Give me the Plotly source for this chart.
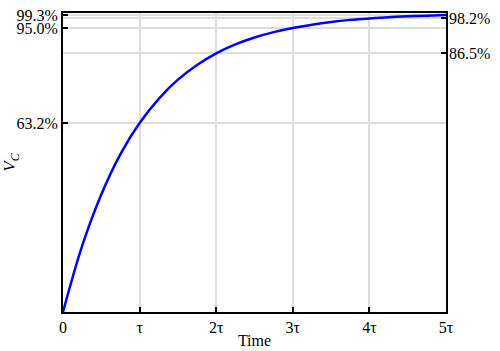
import plotly.graph_objects as go

# time in units of tau, voltage as fraction of supply
t_tau = [0, 0.25, 0.5, 0.75, 1, 1.25, 1.5, 1.75, 2, 2.25, 2.5, 2.75, 3,
         3.25, 3.5, 3.75, 4, 4.25, 4.5, 4.75, 5]
v_c = [0.0, 0.221, 0.393, 0.528, 0.632, 0.713, 0.777, 0.826, 0.865, 0.895,
       0.918, 0.936, 0.950, 0.961, 0.970, 0.977, 0.982, 0.986, 0.989, 0.991, 0.993]

x_tick_vals = [0, 1, 2, 3, 4, 5]
x_tick_text = ["0", "τ", "2τ", "3τ", "4τ", "5τ"]
left_tick_vals = [0.632, 0.950, 0.993]
left_tick_text = ["63.2%", "95.0%", "99.3%"]
right_tick_vals = [0.865, 0.982]
right_tick_text = ["86.5%", "98.2%"]

FONT = "Liberation Serif"

fig = go.Figure()
fig.add_trace(go.Scatter(x=t_tau, y=v_c, mode="lines",
                         line=dict(color="#0000ff", width=2.5, shape="spline"),
                         showlegend=False, hoverinfo="skip"))
# invisible trace on right axis to activate it
fig.add_trace(go.Scatter(x=t_tau, y=v_c, mode="lines", yaxis="y2",
                         line=dict(color="rgba(0,0,0,0)", width=0),
                         showlegend=False, hoverinfo="skip"))

fig.update_layout(
    width=500, height=351,
    margin=dict(l=63, r=54, t=13, b=39),
    paper_bgcolor="white", plot_bgcolor="white",
    font=dict(family=FONT, size=16, color="black"),
    xaxis=dict(range=[0, 5], tickvals=x_tick_vals, ticktext=x_tick_text,
               showgrid=True, gridcolor="#dddddd", gridwidth=2, automargin=False,
               zeroline=False, showline=True, linecolor="black", linewidth=2,
               mirror=True, ticks="inside", ticklen=5, tickwidth=2, tickcolor="black",
               title=dict(text="Time", standoff=0, font=dict(size=16))),
    yaxis=dict(range=[0, 1], tickvals=left_tick_vals, ticktext=left_tick_text,
               showgrid=True, gridcolor="#dddddd", gridwidth=2, automargin=False,
               zeroline=False, showline=True, linecolor="black", linewidth=2,
               mirror=True, ticks="inside", ticklen=5, tickwidth=2, tickcolor="black",
               title=dict(text="<i>V<sub>C</sub></i>", standoff=3, font=dict(size=17))),
    yaxis2=dict(range=[0, 1], overlaying="y", side="right",
                tickvals=right_tick_vals, ticktext=right_tick_text, automargin=False,
                showgrid=True, gridcolor="#dddddd", gridwidth=2,
                zeroline=False, showline=False, ticklabelstandoff=2,
                ticks="inside", ticklen=5, tickwidth=2, tickcolor="black"),
)

fig.write_html("out.html")
